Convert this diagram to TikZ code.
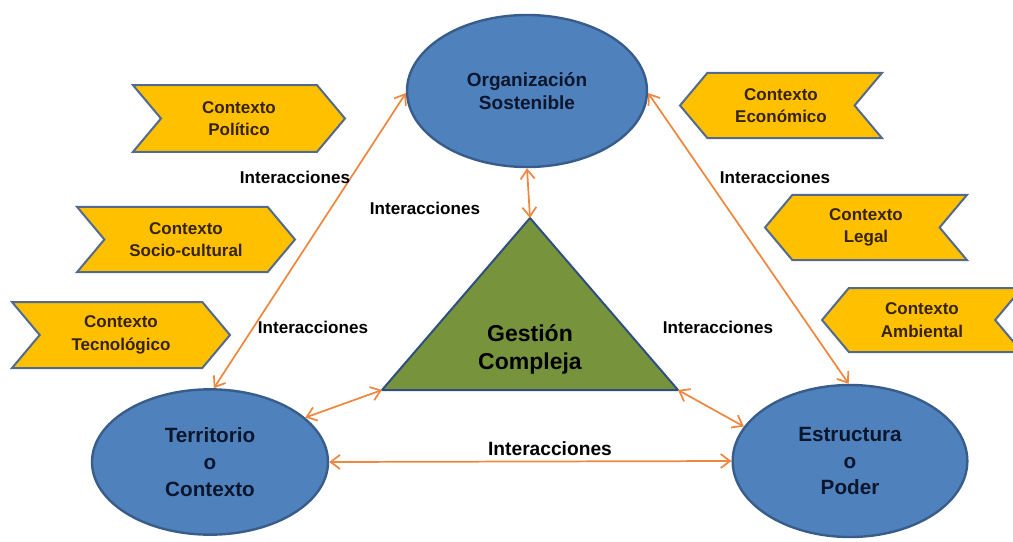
\documentclass[tikz,border=0pt]{standalone}
\usepackage{fontspec}
\setmainfont{Liberation Sans}
\usetikzlibrary{shapes.geometric,shapes.symbols,arrows.meta}

\definecolor{ovalblue}{RGB}{79,129,189}
\definecolor{ovalline}{RGB}{56,93,138}
\definecolor{ctxyellow}{RGB}{255,192,0}
\definecolor{ctxline}{RGB}{84,106,140}
\definecolor{trigreen}{RGB}{119,147,60}
\definecolor{triline}{RGB}{47,79,127}
\definecolor{linkorange}{RGB}{238,136,64}
\definecolor{ovaltext}{RGB}{12,22,45}
\definecolor{ctxtext}{RGB}{55,35,5}

\tikzset{every picture/.style={line width=0.75pt}}
\tikzset{
  oval/.style={ellipse, draw=ovalline, fill=ovalblue, line width=1.8pt, inner sep=0pt, text=ovaltext, align=center},
  ctxbox/.style={signal, signal pointer angle=100, draw=ctxline, fill=ctxyellow, line width=1.5pt, inner sep=0pt, text=ctxtext, align=center, font=\bfseries\fontsize{12.75}{17}\selectfont},
  ctxright/.style={ctxbox, signal from=west, signal to=east},
  ctxleft/.style={ctxbox, signal from=east, signal to=west},
  link/.style={draw=linkorange, line width=1.3pt, {Straight Barb[length=7pt,width=10.5pt]}-{Straight Barb[length=7pt,width=10.5pt]}},
  linklabel/.style={inner sep=0.75pt, font=\bfseries\fontsize{12.8}{15}\selectfont},
}

\begin{document}
\begin{tikzpicture}[x=0.75pt,y=0.75pt,yscale=-1,xscale=1]
\useasboundingbox (0,0) rectangle (1013,542);

%Shape: Signal [Politico]
\draw (239,118.5) node [ctxright, minimum width=159pt, minimum height=50pt] (pol) {Contexto\\Político};
%Shape: Signal [Socio-cultural]
\draw (186,239.5) node [ctxright, minimum width=163.5pt, minimum height=49pt] (soc) {Contexto\\Socio-cultural};
%Shape: Signal [Tecnologico]
\draw (121,335) node [ctxright, minimum width=163.5pt, minimum height=49.5pt] (tec) {Contexto\\Tecnológico};
%Shape: Signal [Economico]
\draw (781,105.5) node [ctxleft, minimum width=151.5pt, minimum height=49pt] (eco) {Contexto\\Económico};
%Shape: Signal [Legal]
\draw (866,227.5) node [ctxleft, minimum width=151.5pt, minimum height=49pt] (leg) {Contexto\\Legal};
%Shape: Signal [Ambiental]
\draw (922,320) node [ctxleft, minimum width=150pt, minimum height=48pt] (amb) {Contexto\\Ambiental};

%Shape: Ellipse [Organizacion]
\draw (527,91) node [oval, minimum width=180pt, minimum height=114pt, font=\bfseries\fontsize{14.25}{17.25}\selectfont] (org) {Organización\\Sostenible};
%Shape: Ellipse [Territorio]
\draw (210,462) node [oval, minimum width=177pt, minimum height=109pt, font=\bfseries\fontsize{15.5}{20}\selectfont] (ter) {Territorio\\o\\Contexto};
%Shape: Ellipse [Estructura]
\draw (850,461) node [oval, minimum width=176pt, minimum height=114pt, font=\bfseries\fontsize{15.5}{20}\selectfont] (est) {Estructura\\o\\Poder};

%Shape: Triangle [Gestion]
\coordinate (apex) at (530,218);
\coordinate (bl) at (382,390);
\coordinate (br) at (678,390);
\draw [draw=triline, fill=trigreen, line width=1.5pt, line join=round] (apex) -- (br) -- (bl) -- cycle;
\draw (530,349) node [align=center, inner sep=0.75pt, font=\bfseries\fontsize{17.25}{21}\selectfont] (ges) {Gestión\\Compleja};

%Straight Lines [interacciones]
\draw [link] (ter.87) -- (org.181);
\draw [link] (org.-1) -- (est.91);
\draw [link] (org.south) -- (apex);
\draw [link] (ter.25) -- (bl);
\draw [link] (br) -- (est.162);
\draw [link] (ter.east) -- (est.west);

% Text Node
\draw (295,177) node [linklabel] (i1) {Interacciones};
% Text Node
\draw (425,208) node [linklabel] (i2) {Interacciones};
% Text Node
\draw (313,327) node [linklabel] (i3) {Interacciones};
% Text Node
\draw (718,327) node [linklabel] (i4) {Interacciones};
% Text Node
\draw (775,177) node [linklabel] (i5) {Interacciones};
% Text Node
\draw (550,449) node [linklabel, font=\bfseries\fontsize{14.4}{17}\selectfont] (i6) {Interacciones};

\end{tikzpicture}
\end{document}
